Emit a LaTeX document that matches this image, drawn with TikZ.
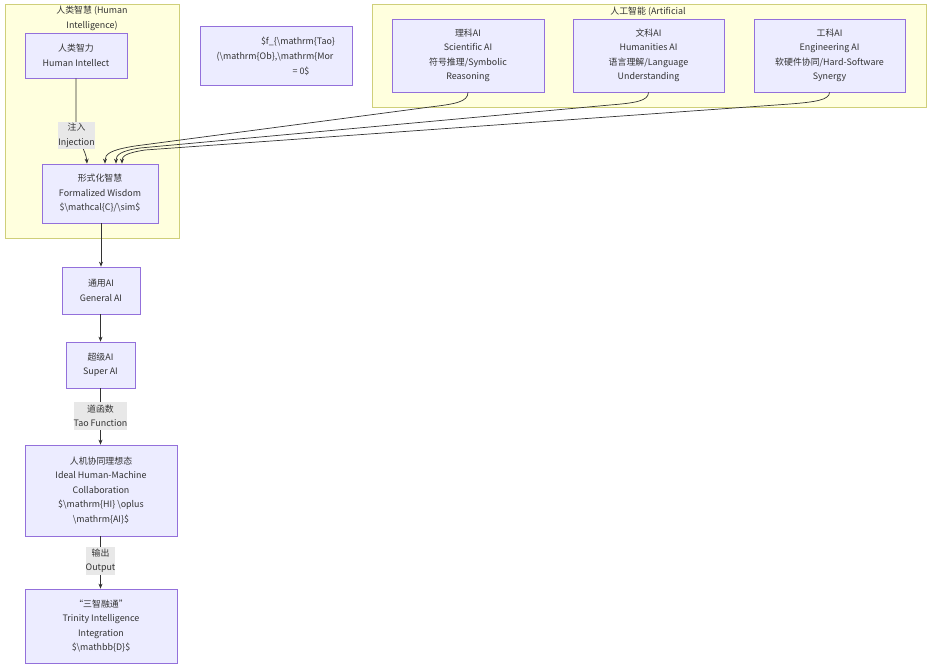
\documentclass[tikz,border=0pt]{standalone}
\usepackage{fontspec}
\setmainfont{Noto Sans CJK SC}
\usetikzlibrary{arrows.meta}
\definecolor{nodefill}{HTML}{ECECFF}
\definecolor{nodedraw}{HTML}{9370DB}
\definecolor{clfill}{HTML}{FFFFDE}
\definecolor{cldraw}{HTML}{CFCF7A}
\definecolor{edgec}{HTML}{333333}
\definecolor{textc}{HTML}{333333}
\definecolor{lblfill}{HTML}{E8E8E8}
\newcommand{\BS}{\textbackslash}
\begin{document}
\begin{tikzpicture}[x=1pt,y=-1pt,
  every node/.style={font=\fontsize{8.9}{14.5}\selectfont, text=textc, inner sep=0pt},
  cluster/.style={draw=cldraw, fill=clfill, line width=0.7pt},
  box/.style={draw=nodedraw, fill=nodefill, line width=0.7pt, align=center},
  lbl/.style={fill=lblfill, align=center},
  edge/.style={draw=edgec, line width=0.7pt, -{Stealth[length=5pt,width=4pt]}}]
\useasboundingbox (0,0) rectangle (931,668);
% clusters
\node[cluster, minimum width=174pt, minimum height=234pt] (hc) at (92,121) {};
\node[cluster, minimum width=554pt, minimum height=103pt] (ac) at (649,55.5) {};
\node[align=center] (hct) at (92,18.5) {人类智慧 (Human\\Intelligence)};
\node (act) at (648,12) {人工智能 (Artificial};
% nodes
\node[box, minimum width=102pt, minimum height=45pt] (hi) at (76,55.5) {人类智力\\Human Intellect};
\node[box, minimum width=116pt, minimum height=59pt] (fw) at (100,193.5) {形式化智慧\\Formalized Wisdom\\\$\BS mathcal\{C\}/\BS sim\$};
\node[box, minimum width=152pt, minimum height=59pt] (fb) at (276,55.5) {};
\node (fb1) at (298,41.5) {\$f\_\{\BS mathrm\{Tao\}};
\node (fb2) at (275,56.5) {(\BS mathrm\{Ob\},\BS mathrm\{Mor};
\node (fb3) at (301,71) {= 0\$};
\node[box, minimum width=152pt, minimum height=73pt] (sci) at (468,55.5) {理科AI\\Scientific AI\\符号推理/Symbolic\\Reasoning};
\node[box, minimum width=151pt, minimum height=73pt] (hum) at (648.5,55.5) {文科AI\\Humanities AI\\语言理解/Language\\Understanding};
\node[box, minimum width=151pt, minimum height=73pt] (eng) at (829.5,55.5) {工科AI\\Engineering AI\\软硬件协同/Hard-Software\\Synergy};
\node[box, minimum width=78pt, minimum height=47pt] (ga) at (101,290.5) {通用AI\\General AI};
\node[box, minimum width=69pt, minimum height=46pt] (sa) at (100.5,365) {超级AI\\Super AI};
\node[box, minimum width=152pt, minimum height=91pt] (id) at (101,490.5) {人机协同理想态\\Ideal Human-Machine\\Collaboration\\\$\BS mathrm\{HI\} \BS oplus\\\BS mathrm\{AI\}\$};
\node[box, minimum width=152pt, minimum height=74pt] (tr) at (101,626) {“三智融通”\\Trinity Intelligence\\Integration\\\$\BS mathbb\{D\}\$};
% edges
\draw[edge] (hi.south) -- (76,120) .. controls (76,140) and (86,150) .. ([xshift=-13pt]fw.north);
\draw[edge] (sci.south) .. controls (468,102) and (455,104) .. (430,107) -- (135,146) .. controls (110,150) and (105,154) .. ([xshift=5pt]fw.north);
\draw[edge] (hum.south) .. controls (648.5,101) and (635,103) .. (610,105) -- (140,148) .. controls (120,151) and (116,155) .. ([xshift=16pt]fw.north);
\draw[edge] (eng.south) .. controls (829.5,100) and (815,102) .. (790,104) -- (145,150) .. controls (126,153) and (122,156) .. ([xshift=22pt]fw.north);
\draw[edge] (fw.south -| ga) -- (ga.north);
\draw[edge] (ga.south -| sa) -- (sa.north);
\draw[edge] (sa.south) -- (id.north -| sa);
\draw[edge] (id.south -| sa) -- (tr.north -| sa);
% edge labels
\node[lbl, minimum width=37pt, minimum height=27pt] (l1) at (76.5,135.5) {注入\\Injection};
\node[lbl, minimum width=53pt, minimum height=28pt] (l2) at (100.5,416) {道函数\\Tao Function};
\node[lbl, minimum width=29pt, minimum height=28pt] (l3) at (100.5,561) {输出\\Output};
\end{tikzpicture}
\end{document}
